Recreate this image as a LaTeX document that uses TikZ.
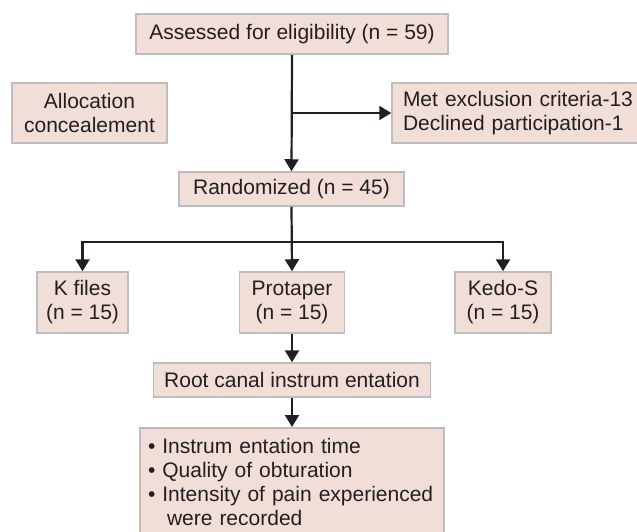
\documentclass[tikz,border=0pt]{standalone}
\usepackage{fontspec}
\setmainfont{Liberation Sans}
\usetikzlibrary{arrows.meta}
\definecolor{boxfill}{RGB}{241,222,214}
\definecolor{boxline}{RGB}{188,188,194}
\definecolor{ink}{RGB}{35,31,32}
\begin{document}
\begin{tikzpicture}[x=1pt,y=-1pt,
  font=\fontsize{21}{24}\selectfont,
  box/.style={draw=boxline, fill=boxfill, line width=1.5pt, inner sep=0pt, text=ink},
  arr/.style={draw=ink, line width=2.2pt, -{Triangle[width=14pt,length=12pt]}}]
\useasboundingbox (0,0) rectangle (637,531);

\node[box, minimum width=312pt, minimum height=40pt] (assess) at (292,34) {Assessed for eligibility (n = 59)};
\node[box, minimum width=155pt, minimum height=60pt, align=center] (alloc) at (89.5,113) {Allocation\\concealement};
\node[box, minimum height=60pt, inner xsep=11pt, text width=231pt, align=left] (met) at (518.5,113) {Met exclusion criteria-13\\Declined participation-1};
\node[box, minimum width=225pt, minimum height=34pt] (rand) at (291.5,189) {Randomized (n = 45)};
\node[box, minimum width=91pt, minimum height=61pt, align=center] (kfiles) at (82.5,302.5) {K files\\(n = 15)};
\node[box, minimum width=105pt, minimum height=61pt, align=center] (protaper) at (292,302.5) {Protaper\\(n = 15)};
\node[box, minimum width=96pt, minimum height=61pt, align=center] (kedo) at (503,302.5) {Kedo-S\\(n = 15)};
\node[box, minimum width=277pt, minimum height=34pt] (root) at (292,380) {Root canal instrum entation};
\node[box, anchor=north, inner xsep=8pt, inner ysep=10.5pt, text width=288pt, align=left] (result) at (292,427)
  {• Instrum entation time\\• Quality of obturation\\• Intensity of pain experienced\\\hspace*{19pt}were recorded\strut};

\draw[arr] (assess.south) -- (rand.north);
\coordinate (b1) at (assess.south |- met.west);
\draw[arr] (b1) -- (met.west);
\draw[arr] (rand.south) -- (protaper.north);
\coordinate (b2) at (292,242);
\draw[arr] (b2) -| (kfiles.north);
\draw[arr] (b2) -| (kedo.north);
\draw[arr] (protaper.south) -- (root.north);
\draw[arr] (root.south) -- (result.north);
\end{tikzpicture}
\end{document}
